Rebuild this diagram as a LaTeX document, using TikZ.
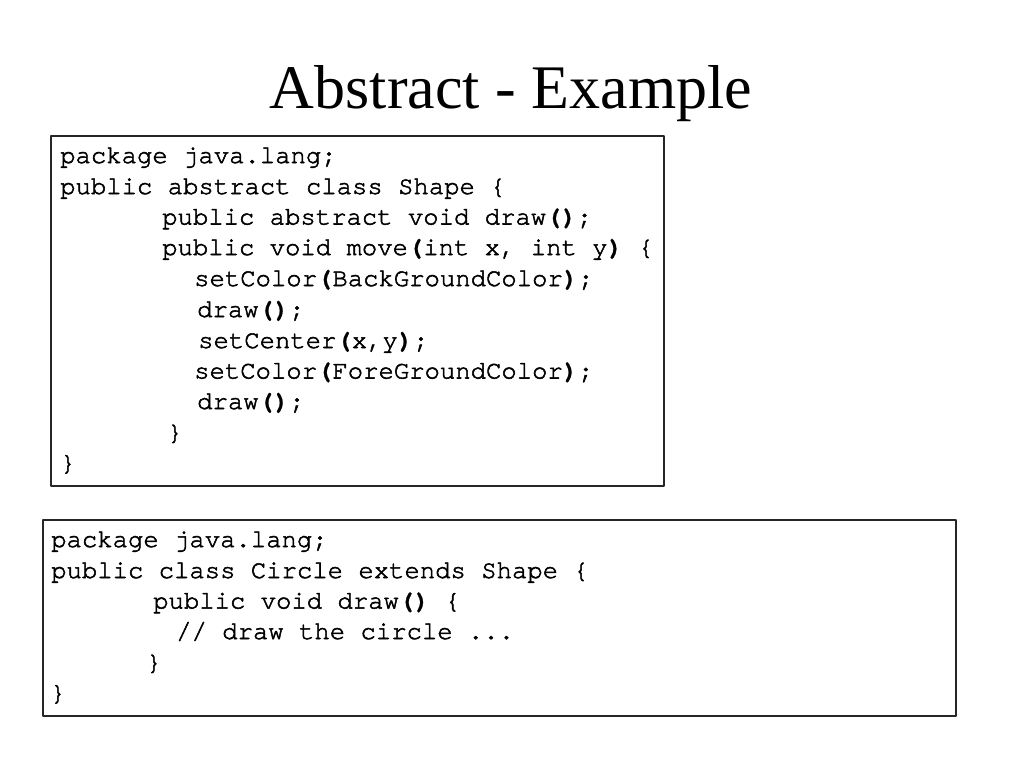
\documentclass[tikz,border=0pt]{standalone}
\usepackage{fontspec}
\setmainfont{Liberation Serif}
\newfontfamily\codefont{texgyrecursor-regular.otf}[FakeBold=2,BoldFont=texgyrecursor-bold.otf,BoldFeatures={FakeBold=0.8}]
\usepackage{tikz}
\newcommand{\lp}{\textbf{(}}
\newcommand{\rp}{\textbf{)}}
\tikzset{code/.style={anchor=base west,inner sep=0pt,font=\codefont\fontsize{25.6}{30}\selectfont},
  codebox/.style={draw=black!85,line width=1.1pt}}
\begin{document}
\begin{tikzpicture}[line cap=round,line join=round,x=1pt,y=-1pt]
			\useasboundingbox (0,0) rectangle (1024,768);
			\node [anchor=base,inner sep=0pt,font=\fontsize{62}{70}\selectfont] (title) at (511,108) {Abstract - Example};
			
			\draw [codebox] (51,136) rectangle (664,486);
			\node [code] (a1) at (60,163) {package java.lang;};
			\node [code] (a2) at (60,194) {public abstract class Shape \{};
			\node [code] (a3) at (162,224.5) {public abstract void draw\lp\rp;};
			\node [code] (a4) at (162,255) {public void move\lp int x, int y\rp\ \{};
			\node [code] (a5) at (194,286) {setColor\lp BackGroundColor\rp;};
			\node [code] (a6) at (197,317) {draw\lp\rp;};
			\node [code] (a7) at (198,348) {setCenter\lp x,y\rp;};
			\node [code] (a8) at (194,378.5) {setColor\lp ForeGroundColor\rp;};
			\node [code] (a9) at (197,409) {draw\lp\rp;};
			\node [code] (a10) at (167,440) {\}};
			\node [code] (a11) at (60,470.5) {\}};
			
			\draw [codebox] (43,520) rectangle (956,716);
			\node [code] (b1) at (51,547) {package java.lang;};
			\node [code] (b2) at (51,578) {public class Circle extends Shape \{};
			\node [code] (b3) at (153,608.5) {public void draw\lp\rp\ \{};
			\node [code] (b4) at (176,639) {// draw the circle ...};
			\node [code] (b5) at (146,670) {\}};
			\node [code] (b6) at (50,700.5) {\}};
		\end{tikzpicture}
\end{document}
